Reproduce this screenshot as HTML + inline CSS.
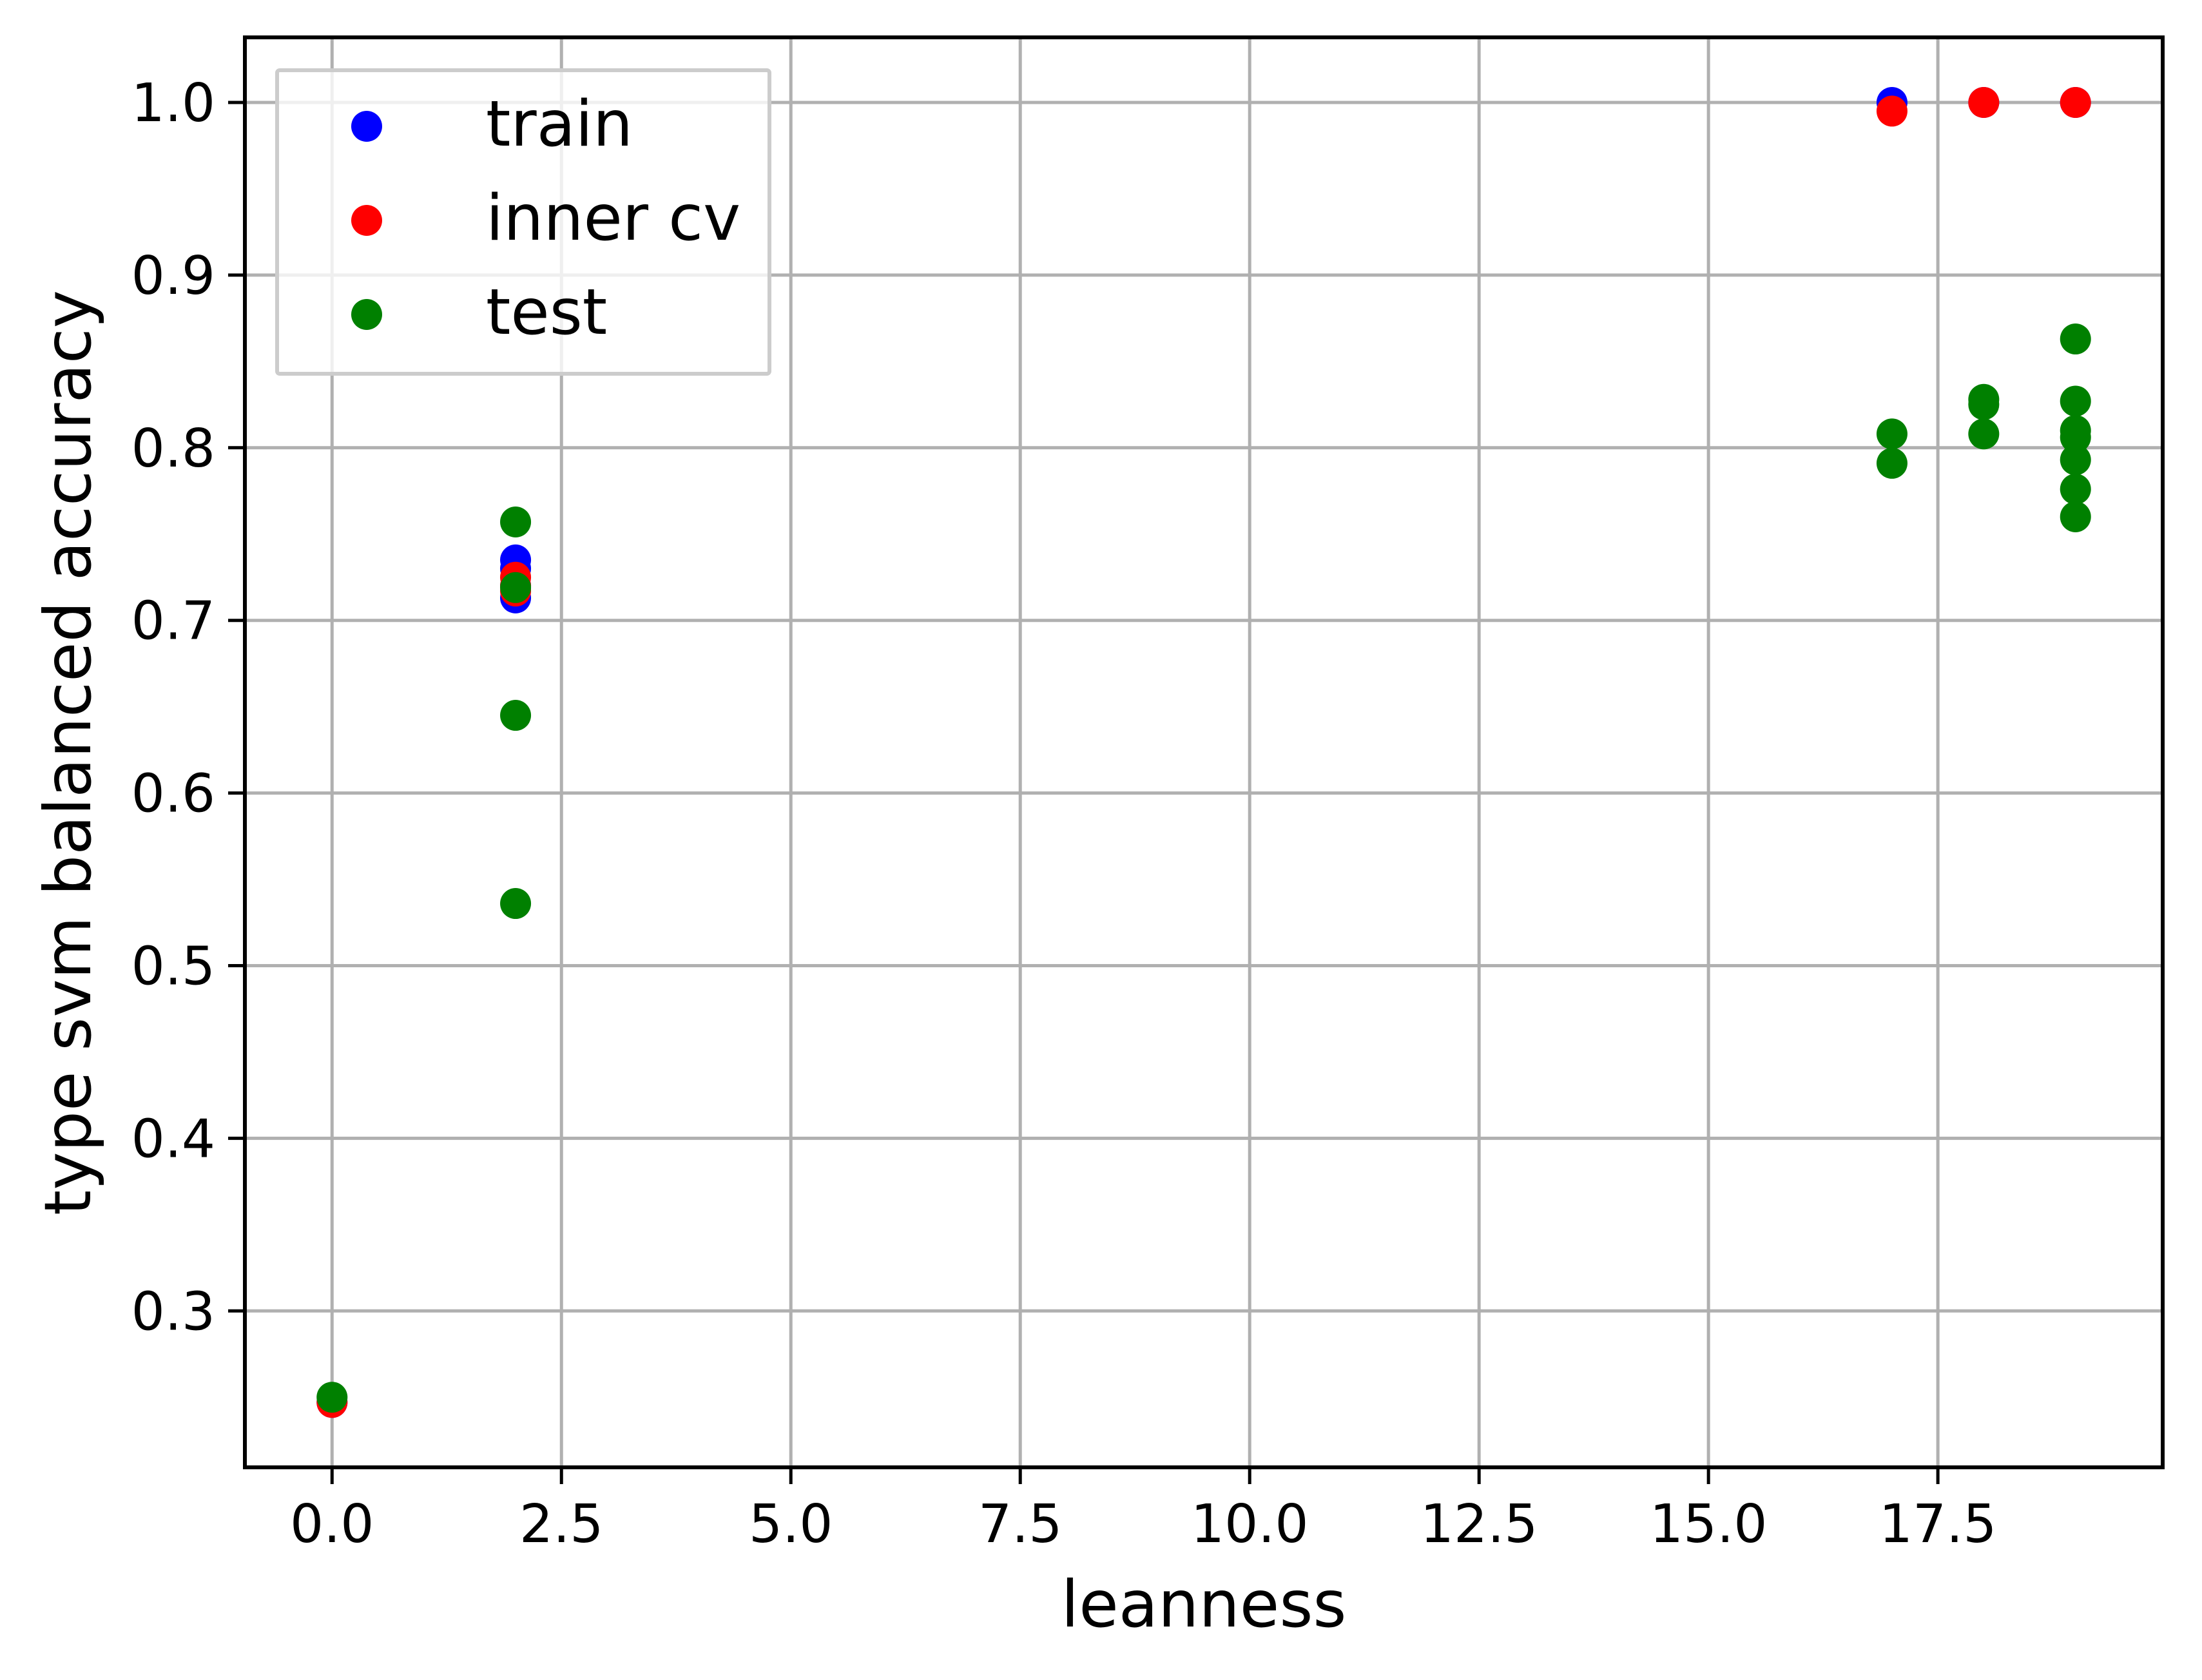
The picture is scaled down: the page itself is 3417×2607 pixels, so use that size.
<!DOCTYPE html>
<html><head><meta charset="utf-8"><style>
html,body{margin:0;padding:0;background:#fff;}
svg{display:block;font-family:"DejaVu Sans","Liberation Sans",sans-serif;}
</style></head><body>
<svg id="chart" width="3417" height="2607" viewBox="0 0 3417 2607" xmlns="http://www.w3.org/2000/svg">
<rect x="0" y="0" width="3417" height="2607" fill="#fff"/>
<g id="grid"></g>
<g id="points"></g>
<rect x="380" y="58" width="2976" height="2219" fill="none" stroke="#000" stroke-width="6"/>
<g id="ticks"></g>
<text x="1868" y="2524" font-size="100" text-anchor="middle">leanness</text>
<text x="0" y="0" font-size="100" text-anchor="middle" transform="translate(140,1168) rotate(-90)">type svm balanced accuracy</text>
<g id="legend">
<rect x="430" y="109" width="764" height="471" fill="#fff" fill-opacity="0.8" stroke="#ccc" stroke-width="6" rx="4"/>
</g>
</svg>
<script>
const xTicks = [0, 2.5, 5, 7.5, 10, 12.5, 15, 17.5];
const yTicks = [0.3, 0.4, 0.5, 0.6, 0.7, 0.8, 0.9, 1.0];
const trainX = [0, 2, 2, 2, 2, 17, 18, 19];
const trainY = [0.247, 0.735, 0.73, 0.72, 0.713, 1.0, 1.0, 1.0];
const cvX = [0, 2, 2, 2, 17, 18, 19];
const cvY = [0.247, 0.725, 0.72, 0.717, 0.995, 1.0, 1.0];
const testX = [0, 2, 2, 2, 2, 17, 17, 18, 18, 18, 19, 19, 19, 19, 19, 19, 19];
const testY = [0.25, 0.757, 0.719, 0.645, 0.536, 0.808, 0.791, 0.828, 0.825, 0.808, 0.863, 0.827, 0.810, 0.806, 0.793, 0.776, 0.760];
const legendLabels = ["train", "inner cv", "test"];
const seriesColors = ["#0000ff", "#ff0000", "#008000"];

const NS = "http://www.w3.org/2000/svg";
const L = 380, R = 3356, T = 58, B = 2277;
const xmin = -0.95, xmax = 19.95, ymin = 0.2094, ymax = 1.0377;
function xs(v){ return L + (v - xmin) / (xmax - xmin) * (R - L); }
function ys(v){ return B - (v - ymin) / (ymax - ymin) * (B - T); }
function mk(tag, attrs, parent){ const e = document.createElementNS(NS, tag); for (const k in attrs) e.setAttribute(k, attrs[k]); parent.appendChild(e); return e; }
const grid = document.getElementById('grid'), ticks = document.getElementById('ticks'), pts = document.getElementById('points');

xTicks.forEach(t => {
  const x = xs(t);
  const g = mk('line', {x1:x, x2:x, y1:T, y2:B, stroke:'#b0b0b0', 'stroke-width':5}, grid);
  
  
  const tk = mk('line', {x1:x, x2:x, y1:B, y2:B+26, stroke:'#000', 'stroke-width':5}, ticks);
  
  
  const lb = mk('text', {x:x, y:B+116, 'font-size':82, 'text-anchor':'middle'}, ticks);
  lb.textContent = t.toFixed(1);
  
  
});
yTicks.forEach(t => {
  const y = ys(t);
  const g = mk('line', {x1:L, x2:R, y1:y, y2:y, stroke:'#b0b0b0', 'stroke-width':5}, grid);
  
  
  const tk = mk('line', {x1:L-26, x2:L, y1:y, y2:y, stroke:'#000', 'stroke-width':5}, ticks);
  
  
  const lb = mk('text', {x:L-46, y:y+29, 'font-size':82, 'text-anchor':'end'}, ticks);
  lb.textContent = t.toFixed(1);
  
  
});
function drawSeries(xsArr, ysArr, color, name){
  xsArr.forEach((xv, i) => {
    const c = mk('ellipse', {cx:xs(xv), cy:ys(ysArr[i]), rx:24, ry:24, fill:color}, pts);
    
    
  });
}
drawSeries(trainX, trainY, seriesColors[0], 'train');
drawSeries(cvX, cvY, seriesColors[1], 'inner-cv');
drawSeries(testX, testY, seriesColors[2], 'test');

const leg = document.getElementById('legend');
legendLabels.forEach((lab, i) => {
  const y = 196 + i * 146;
  const m = mk('circle', {cx:569, cy:y, r:24, fill:seriesColors[i]}, leg);
  
  
  const t = mk('text', {x:754, y:y+30, 'font-size':98}, leg);
  t.textContent = lab;
  
  
});
</script>
</body></html>
